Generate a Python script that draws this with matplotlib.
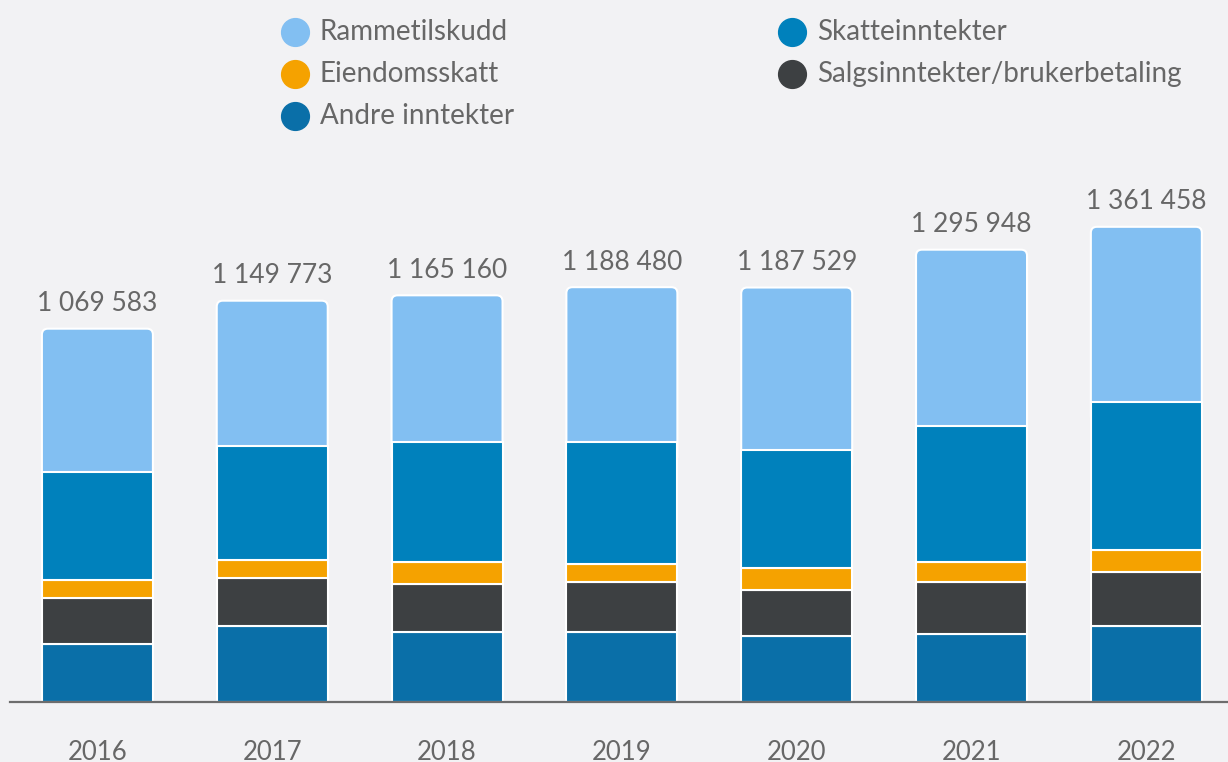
import numpy as np
import matplotlib
matplotlib.use("Agg")
import matplotlib.pyplot as plt
from matplotlib.patches import FancyBboxPatch
from matplotlib.lines import Line2D

# %% Data (NOK 1000)
years = ["2016", "2017", "2018", "2019", "2020", "2021", "2022"]
totals = [1069583, 1149773, 1165160, 1188480, 1187529, 1295948, 1361458]
andre = [166200, 217700, 200600, 200600, 189100, 194800, 217700]
salgs = [131800, 137500, 137500, 143300, 131800, 149000, 154700]
eiendom = [51600, 51600, 63000, 51600, 63000, 57300, 63000]
skatt = [309400, 326600, 343800, 349500, 338100, 389600, 424000]
ramme = [410583, 416373, 420260, 443480, 465529, 505248, 502058]

series = [
    ("Andre inntekter", andre, "#0a6fa8"),
    ("Salgsinntekter/brukerbetaling", salgs, "#3d4042"),
    ("Eiendomsskatt", eiendom, "#f5a200"),
    ("Skatteinntekter", skatt, "#0081bc"),
    ("Rammetilskudd", ramme, "#82bff2"),
]
legend_order = ["Rammetilskudd", "Eiendomsskatt", "Andre inntekter",
                "Skatteinntekter", "Salgsinntekter/brukerbetaling"]

# %% Style
BG = "#f2f2f4"
TXT = "#676767"
plt.rcParams["font.family"] = ["Lato", "DejaVu Sans"]

W, H = 1228, 762
fig = plt.figure(figsize=(W / 100, H / 100), dpi=100, facecolor=BG)
ax_bottom_px, ax_top_px = 702, 150
ax = fig.add_axes([10 / W, (H - ax_bottom_px) / H, 1218 / W,
                   (ax_bottom_px - ax_top_px) / H])
ax.set_facecolor(BG)

x = np.arange(len(years))
width = 0.635
ymax = (ax_bottom_px - ax_top_px) * 2865
ax.set_xlim(-0.5, 6.467)
ax.set_ylim(0, ymax)

bottom = np.zeros(len(years))
for name, vals, color in series:
    vals = np.asarray(vals, dtype=float)
    if name == "Rammetilskudd":
        # rounded top corners: patch extends down, lower segments cover it
        x_per_px = (6.467 + 0.5) / 1218
        y_per_px = ymax / (ax_bottom_px - ax_top_px)
        for xi, b, v in zip(x, bottom, vals):
            ext = 20 * y_per_px
            p = FancyBboxPatch((xi - width / 2, b - ext), width, v + ext,
                               boxstyle=f"round,pad=0,rounding_size={6 * x_per_px}",
                               mutation_aspect=y_per_px / x_per_px,
                               facecolor=color, edgecolor="white", linewidth=1.5,
                               zorder=1)
            ax.add_patch(p)
    else:
        ax.bar(x, vals, width, bottom=bottom, color=color, edgecolor="white",
               linewidth=1.5, zorder=2)
    bottom += vals

for xi, tot in zip(x, totals):
    label = f"{tot:,}".replace(",", " ")
    ax.annotate(label, (xi, tot), xytext=(0, 9), textcoords="offset points",
                ha="center", va="bottom", fontsize=19, color=TXT)

for s in ["top", "right", "left"]:
    ax.spines[s].set_visible(False)
ax.spines["bottom"].set_color("#6d6d6d")
ax.spines["bottom"].set_linewidth(1.6)
ax.spines["bottom"].set_zorder(3)
ax.set_yticks([])
ax.set_xticks(x)
ax.set_xticklabels(years, fontsize=18.5, color=TXT)
ax.tick_params(axis="x", length=0, pad=27)

# %% Legend (two columns at the top)
colors = {name: color for name, _, color in series}
col_x = [295, 792]
row_y = [32, 74, 116]
for i, name in enumerate(legend_order):
    cx = col_x[0] if i < 3 else col_x[1]
    cy = row_y[i % 3] if i < 3 else row_y[i - 3]
    fig.add_artist(Line2D([cx / W], [1 - cy / H], marker="o", markersize=20,
                          color=colors[name], linestyle="none"))
    fig.text((cx + 25) / W, 1 - cy / H, name, fontsize=20, color=TXT,
             ha="left", va="center")

fig.savefig("out.png", dpi=100, facecolor=BG)
